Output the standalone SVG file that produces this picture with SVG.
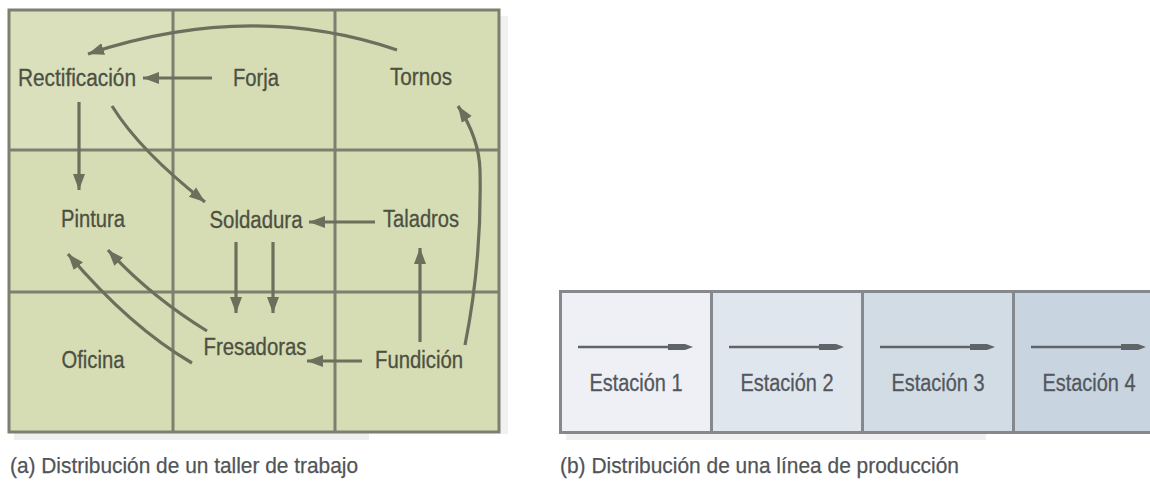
<svg xmlns="http://www.w3.org/2000/svg" width="1150" height="489" viewBox="0 0 1150 489">
<style>
.grid{fill:none;stroke:#7d8070;stroke-width:3}
.cellA{fill:#d6dcb3}
.arr{fill:none;stroke:#6b6f5c;stroke-width:3.2;marker-end:url(#ah)}
.lblA{font-family:"Liberation Sans",Arial,sans-serif;font-size:23px;fill:#4c5042;stroke:#4c5042;stroke-width:0.3;text-anchor:middle}
.lblB{font-family:"Liberation Sans",Arial,sans-serif;font-size:23px;fill:#53575d;stroke:#53575d;stroke-width:0.3;text-anchor:middle}
.cap{font-family:"Liberation Sans",Arial,sans-serif;font-size:22px;fill:#515457;stroke:#515457;stroke-width:0.25}
.cellB{stroke:#85888c;stroke-width:3}
.arrB{fill:none;stroke:#5f6469;stroke-width:2.5}
.headB{fill:#5f6469}
</style>
<defs>
<marker id="ah" markerUnits="userSpaceOnUse" markerWidth="18" markerHeight="14" refX="16" refY="7" orient="auto">
<path d="M0,1 L16,7 L0,13 z" fill="#6b6f5c"/>
</marker>
</defs>
<rect width="1150" height="489" fill="#ffffff"/>

<!-- shadows -->
<rect x="14" y="433" width="355" height="7" fill="#efefef"/>
<rect x="500" y="16" width="8" height="418" fill="#f1f1f1"/>
<rect x="566" y="434" width="420" height="6" fill="#f0f0f0"/>

<!-- Panel (a) grid -->
<g id="panel-a-grid">
<rect class="cellA" x="9" y="10" width="490" height="422"/>
<rect x="9" y="10" width="164" height="140" fill="#dadfbc"/>
<line class="grid" x1="173" y1="10" x2="173" y2="432"/>
<line class="grid" x1="335" y1="10" x2="335" y2="432"/>
<line class="grid" x1="9" y1="150" x2="499" y2="150"/>
<line class="grid" x1="9" y1="292" x2="499" y2="292"/>
<rect class="grid" x="9" y="10" width="490" height="422" stroke-width="3.5"/>
</g>

<!-- Panel (a) connectors -->
<g id="connectors-a">
<path class="arr" d="M397 50 Q250 0 88 54"/>
<path class="arr" d="M212 78 L143 78"/>
<path class="arr" d="M79 102 L79 190"/>
<path class="arr" d="M112 106 Q140 151 205 202"/>
<path class="arr" d="M375 222 L309 222"/>
<path class="arr" d="M236 242 L236 313"/>
<path class="arr" d="M273 242 L273 313"/>
<path class="arr" d="M420 342 L420 248"/>
<path class="arr" d="M362 361 L307 361"/>
<path class="arr" d="M192 363 Q130 327 68 254"/>
<path class="arr" d="M207 331 Q150 296 108 250"/>
<path class="arr" d="M465 345 Q482 260 480 170 Q479 138 458 106"/>
</g>

<!-- Panel (a) nodes -->
<g id="node-rectificacion"><text class="lblA" x="77" y="86" textLength="118" lengthAdjust="spacingAndGlyphs">Rectificación</text></g>
<g id="node-forja"><text class="lblA" x="256" y="86" textLength="46" lengthAdjust="spacingAndGlyphs">Forja</text></g>
<g id="node-tornos"><text class="lblA" x="421" y="85" textLength="62" lengthAdjust="spacingAndGlyphs">Tornos</text></g>
<g id="node-pintura"><text class="lblA" x="93" y="227" textLength="64" lengthAdjust="spacingAndGlyphs">Pintura</text></g>
<g id="node-soldadura"><text class="lblA" x="256" y="228" textLength="93" lengthAdjust="spacingAndGlyphs">Soldadura</text></g>
<g id="node-taladros"><text class="lblA" x="421" y="227" textLength="76" lengthAdjust="spacingAndGlyphs">Taladros</text></g>
<g id="node-oficina"><text class="lblA" x="93" y="368" textLength="63" lengthAdjust="spacingAndGlyphs">Oficina</text></g>
<g id="node-fresadoras"><text class="lblA" x="255" y="355" textLength="103" lengthAdjust="spacingAndGlyphs">Fresadoras</text></g>
<g id="node-fundicion"><text class="lblA" x="419" y="368" textLength="88" lengthAdjust="spacingAndGlyphs">Fundición</text></g>

<!-- Panel (b) -->
<g id="node-estacion1">
<rect class="cellB" x="560.5" y="291.5" width="151" height="141" fill="#eef0f5"/>
<text class="lblB" x="636" y="391" textLength="93" lengthAdjust="spacingAndGlyphs">Estación 1</text>
</g>
<g id="node-estacion2">
<rect class="cellB" x="711.5" y="291.5" width="151" height="141" fill="#dfe6ed"/>
<text class="lblB" x="787" y="391" textLength="93" lengthAdjust="spacingAndGlyphs">Estación 2</text>
</g>
<g id="node-estacion3">
<rect class="cellB" x="862.5" y="291.5" width="151" height="141" fill="#d2dce5"/>
<text class="lblB" x="938" y="391" textLength="93" lengthAdjust="spacingAndGlyphs">Estación 3</text>
</g>
<g id="node-estacion4">
<rect class="cellB" x="1013.5" y="291.5" width="151" height="141" fill="#c8d5e0"/>
<text class="lblB" x="1089" y="391" textLength="93" lengthAdjust="spacingAndGlyphs">Estación 4</text>
</g>

<g id="connectors-b">
<line class="arrB" x1="578" y1="347" x2="688" y2="347"/>
<path class="headB" d="M668 344 L685 344 L693 347 L685 350 L668 350 z"/>
<line class="arrB" x1="729" y1="347" x2="839" y2="347"/>
<path class="headB" d="M819 344 L836 344 L844 347 L836 350 L819 350 z"/>
<line class="arrB" x1="880" y1="347" x2="990" y2="347"/>
<path class="headB" d="M970 344 L987 344 L995 347 L987 350 L970 350 z"/>
<line class="arrB" x1="1031" y1="347" x2="1141" y2="347"/>
<path class="headB" d="M1121 344 L1138 344 L1146 347 L1138 350 L1121 350 z"/>
</g>

<!-- captions -->
<text class="cap" x="10" y="473" textLength="348" lengthAdjust="spacingAndGlyphs">(a) Distribución de un taller de trabajo</text>
<text class="cap" x="560" y="473" textLength="399" lengthAdjust="spacingAndGlyphs">(b) Distribución de una línea de producción</text>
</svg>
